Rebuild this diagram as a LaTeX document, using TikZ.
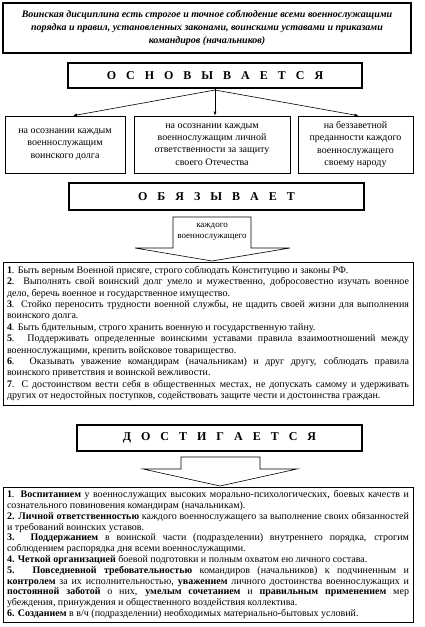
\documentclass[tikz,border=0pt]{standalone}
\usepackage{fontspec}
\setmainfont{Liberation Serif}
\usetikzlibrary{arrows.meta}
\newcommand\lgap{\hspace{10pt}}
\begin{document}
\begin{tikzpicture}[x=1pt,y=-1pt,
  hdbox/.style={draw, line width=1.5pt, inner sep=0pt, font=\fontsize{12}{14}\selectfont\bfseries},
  tbox/.style={draw, line width=0.6pt, inner sep=0pt, align=center, font=\fontsize{10}{12.3}\selectfont},
  lbox/.style={draw, line width=0.8pt, inner sep=0pt},
  arr/.style={line width=0.6pt, -{Latex[length=4pt,width=3pt]}},
  blockarrow/.style={draw, line width=0.6pt, line join=miter},
  lst/.style={inner sep=0pt, text width=402pt, align=justify, font=\fontsize{10}{11.4}\selectfont}
]
\useasboundingbox (0,0) rectangle (425,627);

% top definition box
\node[draw, line width=1.4pt, minimum width=408pt, minimum height=50pt, inner sep=0pt,
      align=center, font=\fontsize{10}{13}\selectfont\bfseries\itshape] (def) at (207,28)
  {Воинская дисциплина есть строгое и точное соблюдение всеми военнослужащими\\
   порядка и правил, установленных законами, воинскими уставами и приказами\\
   командиров (начальников)};

% ОСНОВЫВАЕТСЯ
\node[hdbox, minimum width=294pt, minimum height=25pt] (osn) at (215,75.5)
  {О\lgap С\lgap Н\lgap О\lgap В\lgap Ы\lgap В\lgap А\lgap Е\lgap Т\lgap С\lgap Я};

% three boxes
\node[tbox, minimum width=120pt, minimum height=57pt] (b1) at (65,144.5)
  {на осознании каждым\\военнослужащим\\воинского долга};
\node[tbox, minimum width=156pt, minimum height=57pt] (b2) at (212,144.5)
  {на осознании каждым\\военнослужащим личной\\ответственности за защиту\\своего Отечества};
\node[tbox, minimum width=115pt, minimum height=57pt] (b3) at (355.5,144.5)
  {на беззаветной\\преданности каждого\\военнослужащего\\своему народу};

\coordinate (apex) at (215,90);
\draw[line width=0.6pt] (osn.south) -- (apex);
\draw[arr] (apex) -- ([xshift=8pt]b1.north);
\draw[arr] (apex) -- (apex |- b2.north);
\draw[arr] (apex) -- ([xshift=3pt]b3.north);

% ОБЯЗЫВАЕТ
\node[hdbox, minimum width=295pt, minimum height=27pt] (obz) at (216.5,196.5)
  {О\lgap Б\lgap Я\lgap З\lgap Ы\lgap В\lgap А\lgap Е\lgap Т};

% block arrow 1
\draw[blockarrow] (173,217) -- (251,217) -- (251,248) -- (290,248) -- (212,261)
  -- (135,248) -- (173,248) -- cycle;
\node[inner sep=0pt, align=center, font=\fontsize{9}{10.5}\selectfont] (kaz) at (212,232)
  {каждого\\военнослужащего};

% list 1
\node[lbox, minimum width=410pt, minimum height=143pt] (list1) at (208,333.5) {};
\node[lst] (t1) at (list1.center) {%
\textbf{1}. Быть верным Военной присяге, строго соблюдать Конституцию и законы РФ.\par
\textbf{2}. Выполнять свой воинский долг умело и мужественно, добросовестно изучать военное\linebreak
дело, беречь военное и государственное имущество.\par
\textbf{3}. Стойко переносить трудности военной службы, не щадить своей жизни для выполнения\linebreak
воинского долга.\par
\textbf{4}. Быть бдительным, строго хранить военную и государственную тайну.\par
\textbf{5}. Поддерживать определенные воинскими уставами правила взаимоотношений между\linebreak
военнослужащими, крепить войсковое товарищество.\par
\textbf{6}. Оказывать уважение командирам (начальникам) и друг другу, соблюдать правила\linebreak
воинского приветствия и воинской вежливости.\par
\textbf{7}. С достоинством вести себя в общественных местах, не допускать самому и удерживать\linebreak
других от недостойных поступков, содействовать защите чести и достоинства граждан.};

% ДОСТИГАЕТСЯ
\node[hdbox, minimum width=285pt, minimum height=26pt] (dost) at (219.5,438)
  {Д\lgap О\lgap С\lgap Т\lgap И\lgap Г\lgap А\lgap Е\lgap Т\lgap С\lgap Я};

% block arrow 2
\draw[blockarrow] (181,457) -- (260,457) -- (260,469) -- (297,469) -- (220,486)
  -- (143,469) -- (181,469) -- cycle;

% list 2
\node[lbox, minimum width=410pt, minimum height=135pt] (list2) at (208,554.5) {};
\node[lst, font=\fontsize{10}{10.8}\selectfont] (t2) at (list2.center) {%
\textbf{1}. \textbf{Воспитанием} у военнослужащих высоких морально-психологических, боевых качеств и\linebreak
сознательного повиновения командирам (начальникам).\par
\textbf{2. Личной ответственностью} каждого военнослужащего за выполнение своих обязанностей\linebreak
и требований воинских уставов.\par
\textbf{3. Поддержанием} в воинской части (подразделении) внутреннего порядка, строгим\linebreak
соблюдением распорядка дня всеми военнослужащими.\par
\textbf{4. Четкой организацией} боевой подготовки и полным охватом ею личного состава.\par
\textbf{5. Повседневной требовательностью} командиров (начальников) к подчиненным и\linebreak
\textbf{контролем} за их исполнительностью, \textbf{уважением} личного достоинства военнослужащих и\linebreak
\textbf{постоянной заботой} о них, \textbf{умелым сочетанием} и \textbf{правильным применением} мер\linebreak
убеждения, принуждения и общественного воздействия коллектива.\par
\textbf{6. Созданием} в в/ч (подразделении) необходимых материально-бытовых условий.};

\end{tikzpicture}
\end{document}
